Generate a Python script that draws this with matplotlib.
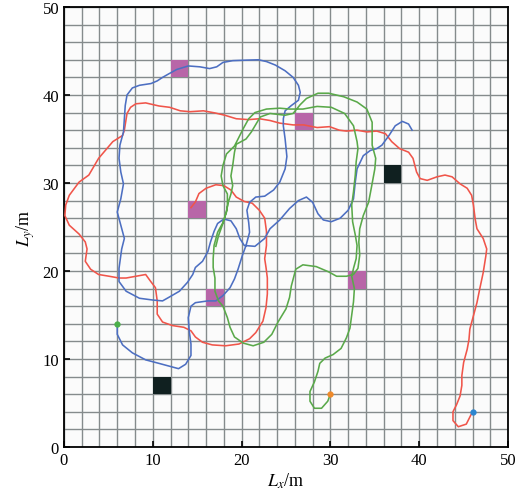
import numpy as np
import matplotlib
matplotlib.use("Agg")
import matplotlib.pyplot as plt
from matplotlib.patches import Rectangle

plt.rcParams["font.family"] = ["Liberation Serif", "DejaVu Serif"]
plt.rcParams["mathtext.fontset"] = "stix"

# ---------------- data ----------------
# path 1 (red), starts at (46, 4)
red_x = [46, 45.3, 44.4, 43.8, 43.8, 44.2, 44.6, 44.8, 44.8, 45, 45.4, 45.6, 45.7, 46.1, 46.5,
         46.8, 47.2, 47.5, 47.6, 47.2, 46.5, 46.3, 46.1, 45.9, 45.4, 44.6, 43.7, 42.9, 42, 40.9,
         40.1, 39.7, 39.3, 38.8, 37.8, 36.9, 36.2, 35.2, 34.1, 33, 31.8, 31, 29.9, 28.5, 27,
         25.8, 24.3, 23.2, 22, 20.8, 19.4, 18.1, 17, 15.7, 14.2, 13.1, 11.9, 10.7, 9.2, 8.1,
         7.5, 7.1, 6.8, 6.6, 5.5, 3.9, 2.8, 1.7, 0.6, 0.2, 0.1, 0.6, 1.7, 2.4, 2.6,
         2.4, 3, 3.9, 5.1, 6.2, 7, 8.1, 9.2, 9.7, 10.3, 10.5, 10.5, 11.1, 12.2, 13.5,
         14.3, 14.8, 15.6, 16.7, 18.2, 19.7, 20.9, 21.6, 22.4, 22.75, 22.9, 22.9, 22.75, 22.6, 22.8,
         22.8, 22.6, 22, 21.2, 20.3, 19.4, 18.8, 18, 17.1, 16, 15.2, 14.8, 14.3]
red_y = [4, 2.6, 2.3, 3, 4, 4.8, 5.8, 7, 8.1, 9.6, 11.1, 12.2, 13.4, 14.9, 16.4,
         17.9, 19.8, 21.7, 22.5, 23.7, 24.8, 25.9, 27.5, 28.6, 29.4, 29.9, 30.7, 30.9, 30.7, 30.3,
         30.5, 31.25, 32.8, 33.5, 33.9, 34.7, 35.6, 35.9, 35.8, 36, 35.9, 36, 36.4, 36.3, 36.6,
         36.6, 36.8, 37.1, 37.3, 37.2, 37.3, 37.7, 37.96, 38.2, 38.1, 38.2, 38.6, 38.75, 39.1, 39,
         38.6, 37.9, 36, 35.4, 34.7, 32.8, 30.9, 30.1, 28.6, 27.5, 26.3, 25.2, 24.2, 23.3, 22.5,
         21.1, 20.2, 19.6, 19.4, 19.2, 19.2, 19.4, 19.6, 18.9, 18.1, 16.6, 15.1, 14.2, 13.8, 13.6,
         13.2, 12.5, 11.9, 11.6, 11.5, 11.7, 12.3, 13, 14.3, 15.85, 17.4, 19.2, 20.4, 21.4, 22.9,
         24.5, 26, 26.9, 27.7, 27.9, 28.4, 29.2, 29.7, 29.8, 29.4, 28.8, 27.85, 27.2]

# path 2 (blue), starts at (6, 14)
blue_x = [6, 6, 6.6, 7.7, 9.2, 10.7, 11.8, 12.9, 13.7, 14.3, 14.3, 14.1, 14, 14.3, 14.8,
          16.2, 17.1, 17.9, 18.7, 19.2, 19.6, 20.1, 20.5, 20.9, 20.8, 20.6, 20.9, 21.6, 22.6, 23.6,
          24.3, 24.9, 25.1, 24.9, 24.7, 24.7, 24.9, 25.6, 26.4, 26.6, 26.4, 25.8, 24.9, 23.8, 22.8,
          21.9, 20.6, 19, 17.9, 17.2, 16.4, 15.3, 14, 12.7, 11.8, 11.1, 10.5, 9.8, 8.5, 7.7,
          7.1, 6.9, 6.8, 6.7, 6.3, 6.2, 6.4, 6.7, 6.4, 6, 6.4, 6.8, 6.5, 6.2, 6.2,
          7, 8.5, 10, 11.1, 11.8, 13, 13.9, 14.5, 14.8, 15.6, 16.2, 16.5, 16.9, 17.3, 18,
          18.8, 19.4, 19.8, 20.3, 21.5, 22.6, 23.2, 24.3, 25.4, 26.4, 27.3, 28, 28.6, 29.2, 30.1,
          31.1, 32, 32.6, 32.8, 33, 33.7, 34.5, 35.2, 35.8, 36.6, 37.3, 38.1, 38.8, 39.2]
blue_y = [14, 12.8, 11.6, 10.7, 9.9, 9.5, 9.2, 8.9, 9.4, 10.4, 11.7, 13.2, 14.7, 16, 16.4,
          16.6, 16.6, 17.2, 18.1, 19.1, 20.2, 21.8, 22.9, 24.4, 25.5, 26.9, 27.8, 28.4, 28.5, 29.2,
          30.1, 31.6, 33, 35, 36.5, 37.3, 38.2, 38.8, 39.4, 40.3, 41.1, 42, 42.75, 43.4, 43.8,
          44, 43.96, 43.9, 43.7, 43.2, 43, 43.2, 43.3, 42.9, 42.4, 42, 41.6, 41.3, 41.1, 40.8,
          40, 38.8, 37.3, 35.8, 34.3, 32.8, 31.25, 29.9, 28.2, 26.7, 25.2, 23.7, 22.5, 20.3, 18.8,
          17.7, 16.9, 16.7, 16.6, 17, 17.7, 18.7, 19.6, 20.4, 21.1, 22.2, 23.3, 24.5, 25.4, 25.9,
          25.7, 24.8, 23.7, 22.9, 22.8, 23.7, 24.8, 25.8, 27.1, 28, 28.4, 27.8, 26.5, 25.8, 25.6,
          26, 26.9, 28.2, 30.1, 31.6, 33.1, 33.7, 33.9, 34.3, 35.4, 36.5, 37, 36.7, 36]

# path 3 (green), starts at (30, 6)
green_x = [30, 29.7, 29, 28.2, 27.7, 27.7, 28.2, 28.6, 28.8, 29.4, 30.3, 31.2, 31.8, 32.2, 32.4,
           32.6, 32.7, 32.4, 32.6, 32.9, 33, 32.8, 32.5, 32.4, 32.6, 32.8, 32.9, 33.1, 33, 32.6,
           31.6, 30.1, 28.5, 26.9, 25.4, 24.3, 22.8, 21.5, 20.8, 20.2, 19.6, 19.2, 18.3, 17.9, 17.7,
           17.9, 18.4, 18.4, 18.3, 17.9, 17.3, 16.9, 16.8, 16.8, 17, 17, 17.4, 17.9, 18.4, 18.7,
           19.2, 20.2, 21.3, 22.5, 23.4, 24.1, 25, 25.4, 25.6, 26.1, 26.9, 28.4, 29.8, 30.7, 31.8,
           32.6, 33.1, 33.3, 33.2, 33.3, 33.7, 34.3, 34.6, 35, 35.1, 34.7, 34.7, 34.1, 33, 31.5,
           29.8, 28.6, 27.3, 26.6, 25.8, 24.9, 23.2, 22.1, 21.1, 20.5, 19.4, 19.2, 19, 18.8, 19,
           18.8, 18.5, 18.3, 17.9, 17.4, 17.1]
green_y = [6, 5.2, 4.4, 4.4, 5.2, 6.3, 7.4, 8.6, 9.5, 10.1, 10.5, 11.2, 12.4, 13.5, 15,
           16.5, 18, 19.4, 20.3, 21.4, 22.9, 24.1, 25.6, 27.5, 29, 30.9, 32.4, 33.9, 34.7, 36.5,
           37.9, 38.6, 38.7, 38.4, 38.4, 38.5, 38.4, 38, 37.3, 36.2, 35, 34.2, 33.3, 32, 30.8,
           29.7, 28.75, 27.4, 26.7, 25.5, 24.4, 22.9, 21.4, 20.4, 19.2, 17.7, 16.6, 16, 14.7, 13.6,
           12.5, 11.8, 11.5, 11.9, 12.8, 14.2, 15.7, 17, 18.3, 20.2, 20.7, 20.5, 19.9, 19.4, 19.4,
           19.6, 20.3, 21.8, 23.3, 24.8, 26.3, 27.8, 29.4, 31.6, 32.8, 34.3, 36.9, 38.4, 39.2, 39.8,
           40.2, 40.2, 39.6, 38.9, 37.9, 37.7, 37.9, 37.5, 35.8, 35, 34.4, 33.5, 32, 30.8, 29.7,
           28.75, 27.8, 26.8, 25.4, 24, 22.8]

# obstacles: lower-left corners of 2x2 cells
pink_x = [12, 14, 16, 26, 32]
pink_y = [42, 26, 16, 36, 18]
dark_x = [10, 36]
dark_y = [6, 30]

# ---------------- plotting ----------------
fig = plt.figure(figsize=(5.2, 5.02), dpi=100)
ax = fig.add_axes([0.123, 0.1076, 0.854, 0.8765])
ax.set_facecolor("#fbfbfb")

ax.set_xlim(0, 50)
ax.set_ylim(0, 50)

# grid every 2 m
ax.set_xticks(np.arange(0, 51, 2), minor=True)
ax.set_yticks(np.arange(0, 51, 2), minor=True)
ax.grid(which="both", color="#858b8c", lw=1.0, zorder=0)
ax.set_axisbelow(True)

for cx, cy in zip(pink_x, pink_y):
    ax.add_patch(Rectangle((cx, cy), 2, 2, color="#b866a8", zorder=2, lw=0))
for cx, cy in zip(dark_x, dark_y):
    ax.add_patch(Rectangle((cx, cy), 2, 2, color="#102020", zorder=2, lw=0))

ax.plot(red_x, red_y, color="#f0554a", lw=1.15, zorder=3, solid_joinstyle="round")
ax.plot(blue_x, blue_y, color="#4d6fc2", lw=1.15, zorder=3, solid_joinstyle="round")
ax.plot(green_x, green_y, color="#5aa94a", lw=1.15, zorder=3, solid_joinstyle="round")

ax.plot(red_x[0], red_y[0], "o", color="#2c86d0", ms=3.5, zorder=4)
ax.plot(blue_x[0], blue_y[0], "o", color="#4bb04a", ms=3.5, zorder=4)
ax.plot(green_x[0], green_y[0], "o", color="#f08a2a", ms=3.5, zorder=4)

ax.set_xticks(np.arange(0, 51, 10))
ax.set_yticks(np.arange(0, 51, 10))
ax.tick_params(which="major", direction="in", length=4, width=1.2, labelsize=12)
ax.tick_params(which="minor", length=0)
for s in ax.spines.values():
    s.set_linewidth(1.3)

ax.set_xlabel(r"$L_x$/m", fontsize=13, labelpad=2)
ax.set_ylabel(r"$L_y$/m", fontsize=13, labelpad=4)

fig.savefig("out.png", dpi=100)
